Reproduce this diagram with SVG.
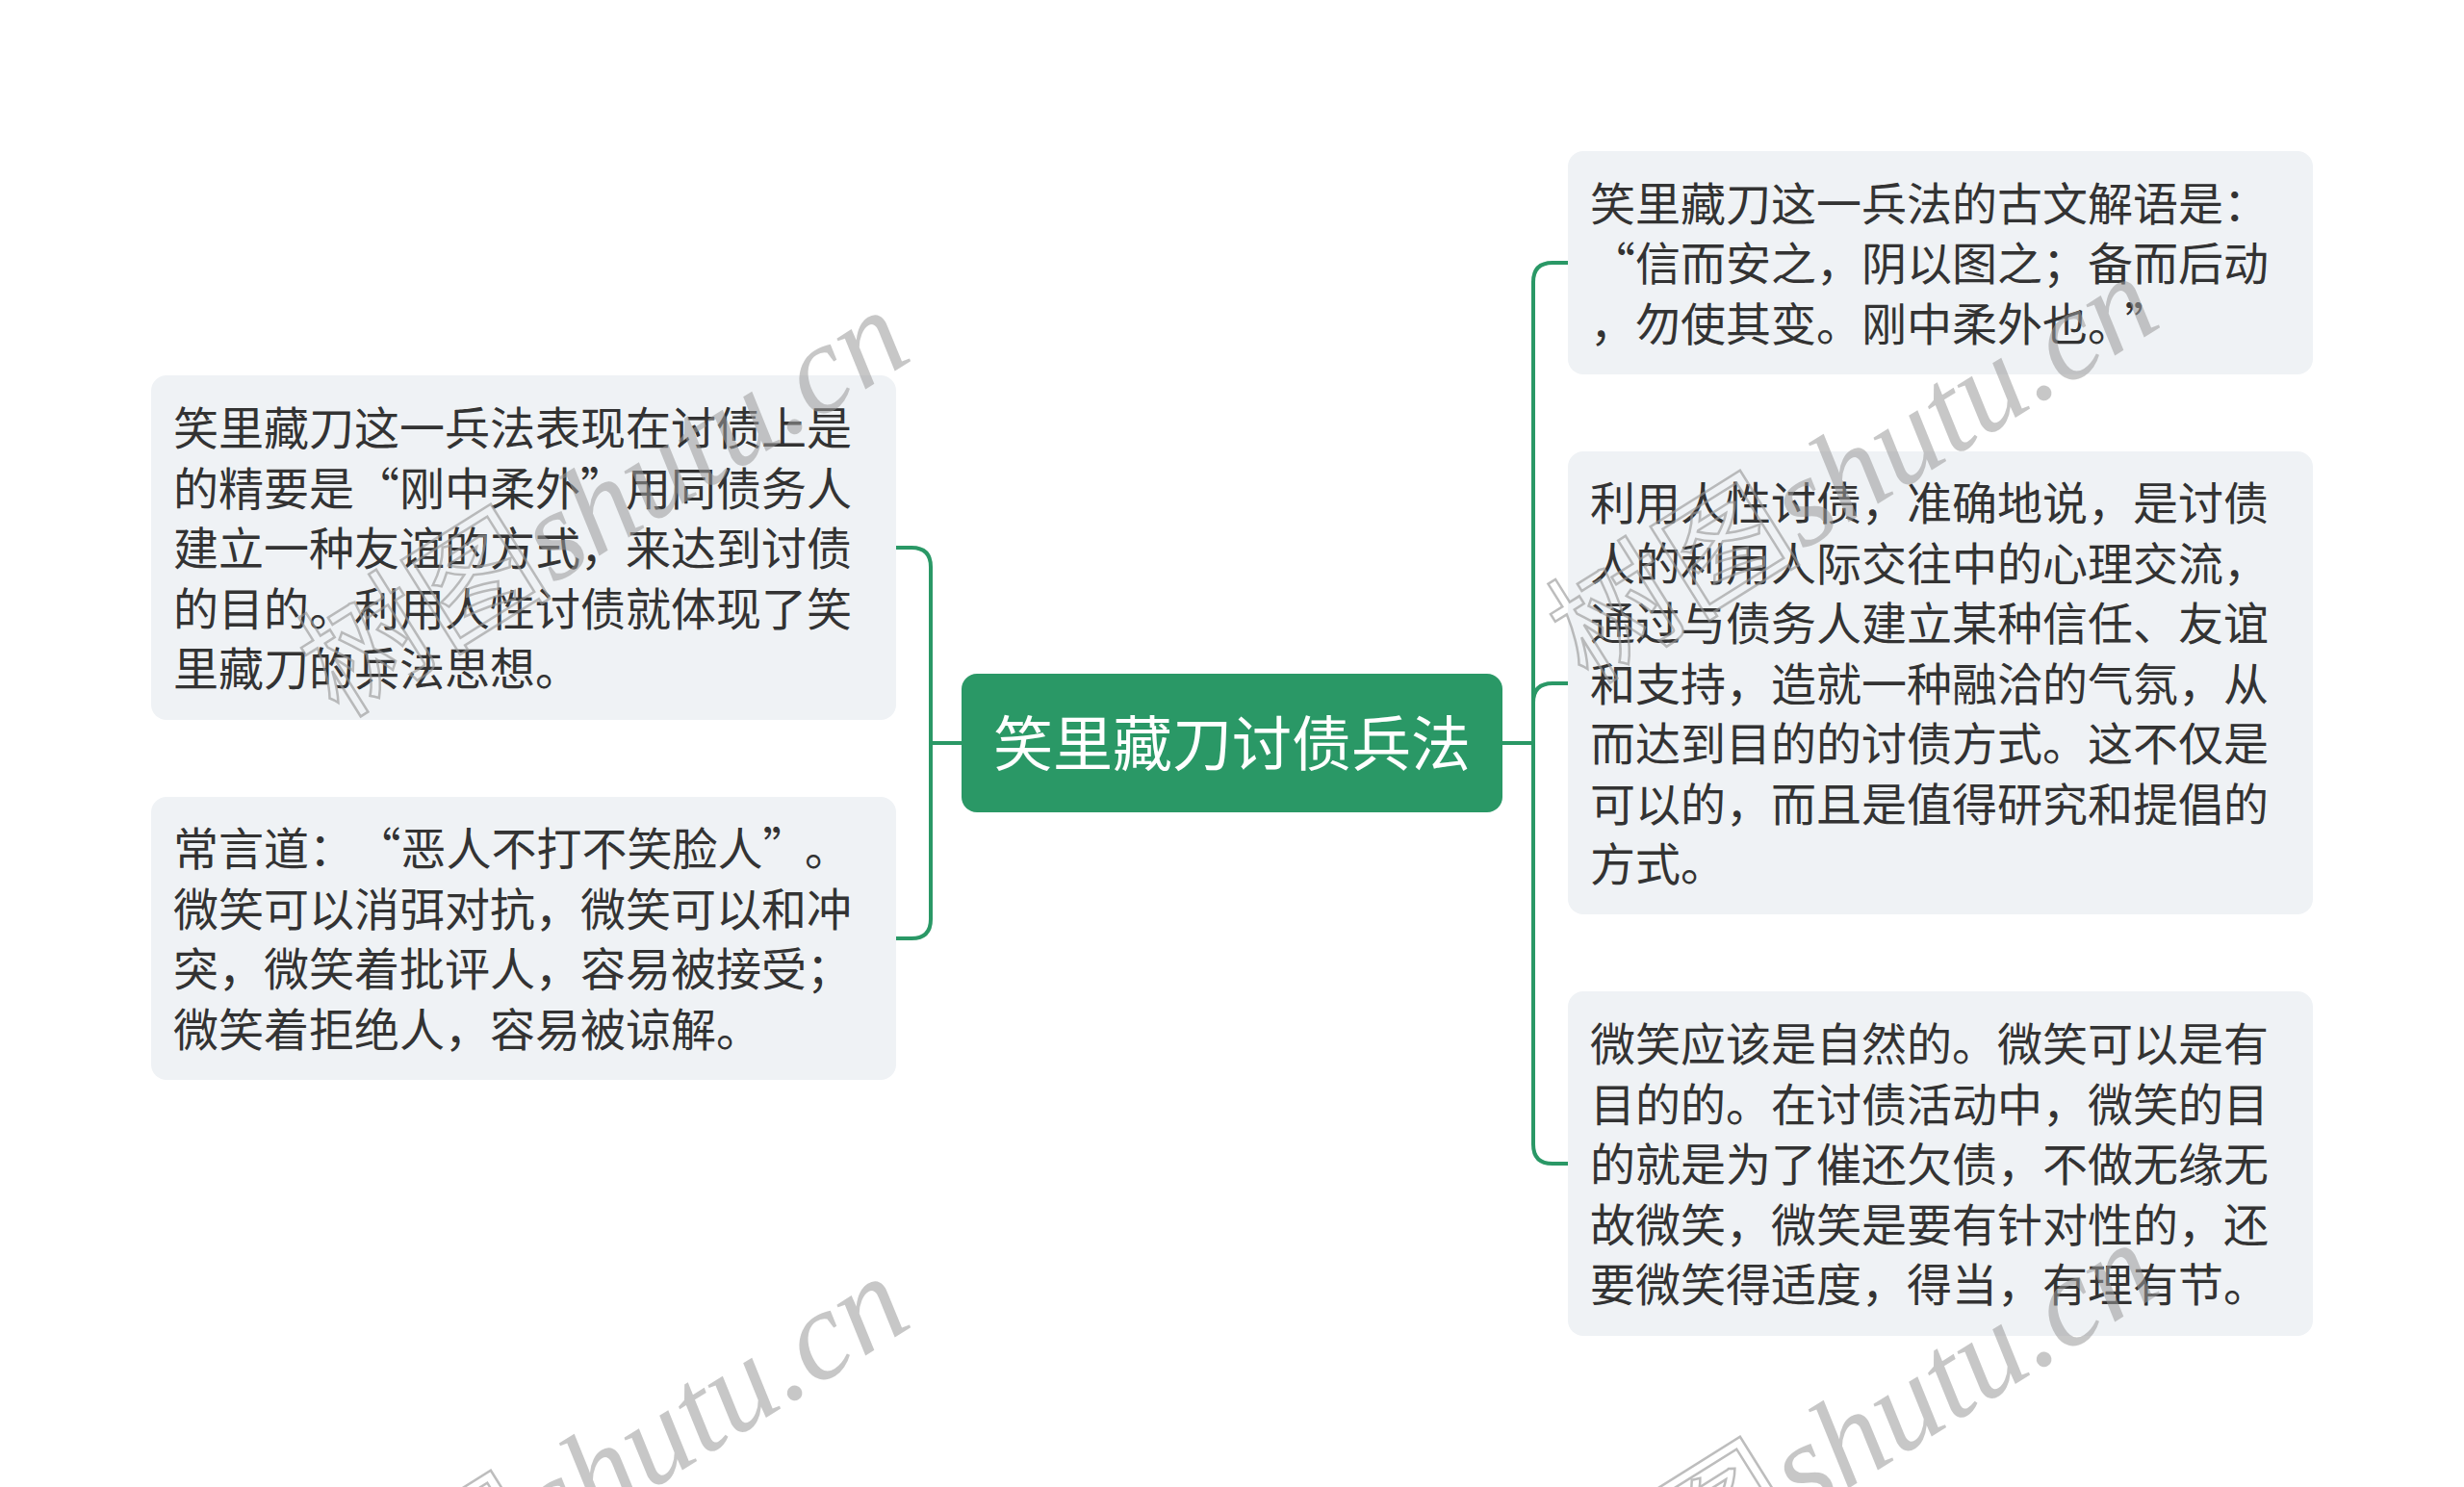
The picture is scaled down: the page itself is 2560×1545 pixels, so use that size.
<svg xmlns="http://www.w3.org/2000/svg" width="2560" height="1545" viewBox="0 0 2560 1545">
<style>
.box{fill:#eff2f5;}
.t{font-family:"Noto Sans CJK SC","Noto Sans",sans-serif;font-size:47px;fill:#333333;}
.root{fill:#2a9866;}
.rt{font-family:"Noto Sans CJK SC","Noto Sans",sans-serif;font-size:62px;fill:#ffffff;text-anchor:middle;}
.c{fill:none;stroke:#2a9866;stroke-width:4;}
.wm{font-family:"Liberation Serif",serif;font-style:italic;font-size:132px;fill:#999999;fill-opacity:0.55;}
.wmc{font-family:"Noto Sans CJK SC",sans-serif;font-style:normal;fill:none;stroke:#999999;stroke-opacity:0.65;stroke-width:2.5;}
</style>
<rect width="2560" height="1545" fill="#ffffff"/>
<g id="connectors">
<path class="c" d="M999,772 H967 M967,772 V589 Q967,569 947,569 H931 M967,772 V955 Q967,975 947,975 H931"/>
<path class="c" d="M1561,772 H1593 M1593,772 V293 Q1593,273 1613,273 H1629 M1593,772 V730 Q1593,710 1613,710 H1629 M1593,772 V1189 Q1593,1209 1613,1209 H1629"/>
</g>
<g id="root">
<rect class="root" x="999" y="700" width="562" height="144" rx="16"/>
<text class="rt" x="1280" y="796">笑里藏刀讨债兵法</text>
</g>
<g id="left1">
<rect class="box" x="157" y="390" width="774" height="358" rx="16"/>
<text class="t" x="180" y="462">笑里藏刀这一兵法表现在讨债上是</text>
<text class="t" x="180" y="524.5">的精要是“刚中柔外”用同债务人</text>
<text class="t" x="180" y="587">建立一种友谊的方式，来达到讨债</text>
<text class="t" x="180" y="649.5">的目的。利用人性讨债就体现了笑</text>
<text class="t" x="180" y="712">里藏刀的兵法思想。</text>
</g>
<g id="left2">
<rect class="box" x="157" y="828" width="774" height="294" rx="16"/>
<text class="t" x="180" y="899">常言道：<tspan dx="25">“恶人不打不笑脸人”</tspan><tspan dx="20">。</tspan></text>
<text class="t" x="180" y="962">微笑可以消弭对抗，微笑可以和冲</text>
<text class="t" x="180" y="1024">突，微笑着批评人，容易被接受；</text>
<text class="t" x="180" y="1087">微笑着拒绝人，容易被谅解。</text>
</g>
<g id="right1">
<rect class="box" x="1629" y="157" width="774" height="232" rx="16"/>
<text class="t" x="1652" y="228.5">笑里藏刀这一兵法的古文解语是：</text>
<text class="t" x="1652" y="291">“信而安之，阴以图之；备而后动</text>
<text class="t" x="1652" y="353.5">，勿使其变。刚中柔外也。<tspan dx="15">”</tspan></text>
</g>
<g id="right2">
<rect class="box" x="1629" y="469" width="774" height="481" rx="16"/>
<text class="t" x="1652" y="540">利用人性讨债，准确地说，是讨债</text>
<text class="t" x="1652" y="602.5">人的利用人际交往中的心理交流，</text>
<text class="t" x="1652" y="665">通过与债务人建立某种信任、友谊</text>
<text class="t" x="1652" y="727.5">和支持，造就一种融洽的气氛，从</text>
<text class="t" x="1652" y="790">而达到目的的讨债方式。这不仅是</text>
<text class="t" x="1652" y="852.5">可以的，而且是值得研究和提倡的</text>
<text class="t" x="1652" y="915">方式。</text>
</g>
<g id="right3">
<rect class="box" x="1629" y="1030" width="774" height="358" rx="16"/>
<text class="t" x="1652" y="1102">微笑应该是自然的。微笑可以是有</text>
<text class="t" x="1652" y="1164.5">目的的。在讨债活动中，微笑的目</text>
<text class="t" x="1652" y="1227">的就是为了催还欠债，不做无缘无</text>
<text class="t" x="1652" y="1289.5">故微笑，微笑是要有针对性的，还</text>
<text class="t" x="1652" y="1352">要微笑得适度，得当，有理有节。</text>
</g>
<g id="watermarks">
<text class="wm" transform="translate(351,747) rotate(-32)"><tspan class="wmc">树图</tspan>shutu.cn</text>
<text class="wm" transform="translate(1649,712) rotate(-32)"><tspan class="wmc">树图</tspan>shutu.cn</text>
<text class="wm" transform="translate(351,1751) rotate(-32)"><tspan class="wmc">树图</tspan>shutu.cn</text>
<text class="wm" transform="translate(1649,1716) rotate(-32)"><tspan class="wmc">树图</tspan>shutu.cn</text>
</g>
</svg>
